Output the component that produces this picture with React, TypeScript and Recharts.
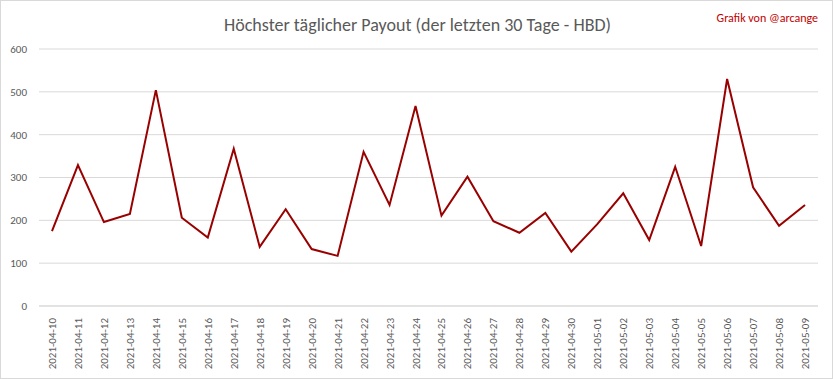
import React from 'react';
import { LineChart, Line, XAxis, YAxis, CartesianGrid } from 'recharts';

const days = [
  '2021-04-10', '2021-04-11', '2021-04-12', '2021-04-13', '2021-04-14',
  '2021-04-15', '2021-04-16', '2021-04-17', '2021-04-18', '2021-04-19',
  '2021-04-20', '2021-04-21', '2021-04-22', '2021-04-23', '2021-04-24',
  '2021-04-25', '2021-04-26', '2021-04-27', '2021-04-28', '2021-04-29',
  '2021-04-30', '2021-05-01', '2021-05-02', '2021-05-03', '2021-05-04',
  '2021-05-05', '2021-05-06', '2021-05-07', '2021-05-08', '2021-05-09',
];

const payouts = [
  175, 329, 196, 215, 504, 206, 160, 367, 138, 226,
  133, 117, 360, 236, 467, 211, 302, 198, 171, 217,
  127, 191, 263, 154, 325, 140, 530, 277, 187, 236,
];

const yTicks = [0, 100, 200, 300, 400, 500, 600];

const chartData = days.map((day, i) => ({ day, payout: payouts[i] }));

const FONT = 'Carlito, "Liberation Sans", "DejaVu Sans", sans-serif';

const DateTick = (props: any) => {
  const { x, y, payload } = props;
  return (
    <text
      x={0}
      y={0}
      transform={`translate(${x + 4},${y + 4}) rotate(-90)`}
      textAnchor="end"
      fontSize={11}
      fontFamily={FONT}
      fill="#595959"
    >
      {payload.value}
    </text>
  );
};

export default function App() {
  return (
    <div
      style={{
        position: 'absolute',
        left: 0,
        top: 0,
        width: 833,
        height: 379,
        border: '1px solid #d9d9d9',
        boxSizing: 'border-box',
        background: '#fff',
        fontFamily: FONT,
      }}
    >
      <div
        style={{
          position: 'absolute',
          top: 13,
          left: 0,
          width: 833,
          textAlign: 'center',
          fontSize: 18,
          color: '#595959',
          fontFamily: FONT,
          fontWeight: 300,
        }}
      >
        Höchster täglicher Payout (der letzten 30 Tage - HBD)
      </div>
      <div
        style={{
          position: 'absolute',
          top: 10,
          right: 14,
          fontSize: 12,
          color: '#c00000',
          fontFamily: FONT,
        }}
      >
        Grafik von @arcange
      </div>
      <LineChart
        width={831}
        height={377}
        data={chartData}
        margin={{ top: 48, right: 14, left: 0, bottom: 0 }}
      >
        <CartesianGrid stroke="#d9d9d9" vertical={false} />
        <XAxis
          dataKey="day"
          scale="band"
          interval={0}
          height={72}
          axisLine={{ stroke: '#d9d9d9' }}
          tickLine={false}
          tick={<DateTick />}
        />
        <YAxis
          width={38}
          domain={[0, 600]}
          ticks={yTicks}
          axisLine={false}
          tickLine={false}
          tickMargin={6}
          tick={{ fontSize: 11, fill: '#595959', fontFamily: FONT }}
        />
        <Line
          type="linear"
          dataKey="payout"
          stroke="#990000"
          strokeWidth={2}
          dot={false}
          isAnimationActive={false}
        />
      </LineChart>
    </div>
  );
}
